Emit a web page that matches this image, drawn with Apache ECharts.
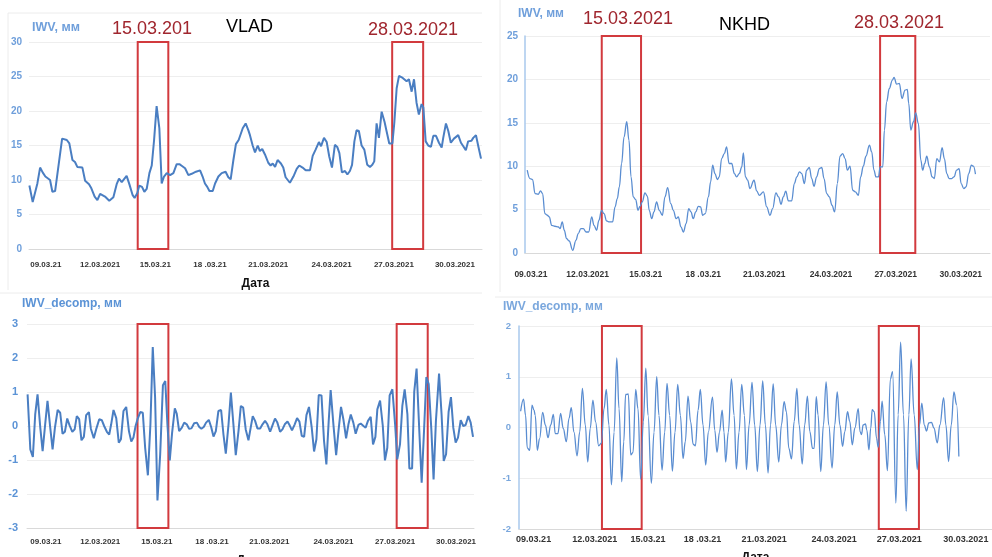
<!DOCTYPE html>
<html>
<head>
<meta charset="utf-8">
<script src="https://cdn.jsdelivr.net/npm/echarts@6/dist/echarts.min.js"></script>
<style>
  html, body { margin: 0; padding: 0; background: #fff; }
  #main { width: 992px; height: 557px; }
</style>
</head>
<body>
<div id="main"></div>
<script>
// x values are days of March 2021
var dateLabels = ['09.03.21', '12.03.2021', '15.03.21', '18 .03.21', '21.03.2021', '24.03.2021', '27.03.2021', '30.03.2021'];
var vladTopTicks = [9, 11.79, 14.62, 17.43, 20.42, 23.67, 26.87, 30];
var nkhdTopTicks = [9, 11.77, 14.61, 17.42, 20.40, 23.66, 26.82, 30];
var vladBotTicks = [9, 11.78, 14.68, 17.50, 20.44, 23.72, 26.88, 30];
var nkhdBotTicks = [9, 11.97, 14.56, 17.20, 20.20, 23.60, 26.76, 30];

// IWV, mm - VLAD
var vladIwv = [
  [8.16,9.2],[8.33,6.8],[8.57,9.5],[8.71,11.8],[8.84,11.1],[8.98,10.5],[9.08,10.7],[9.22,10.0],[9.34,8.3],[9.48,8.4],
  [9.84,16.0],[10.08,15.8],[10.21,15.3],[10.37,12.9],[10.50,12.6],[10.62,11.9],[10.88,11.8],[11.02,9.9],[11.22,9.4],[11.34,8.8],
  [11.51,7.6],[11.65,7.1],[11.79,8.0],[12.04,7.6],[12.26,7.0],[12.47,7.5],[12.64,9.4],[12.76,10.2],[12.90,9.7],[13.15,10.6],
  [13.29,9.4],[13.46,7.8],[13.56,7.4],[13.70,8.1],[13.80,9.2],[13.94,9.0],[14.06,8.3],[14.18,8.7],[14.32,11.0],[14.44,12.1],
  [14.56,15.8],[14.69,20.7],[14.83,17.5],[14.95,9.5],[15.07,10.5],[15.21,11.0],[15.38,10.7],[15.55,11.0],[15.72,12.3],[15.86,12.3],
  [16.01,12.0],[16.15,11.7],[16.23,11.8],[16.32,10.7],[16.49,10.9],[16.71,11.2],[16.92,11.4],[17.05,10.5],[17.17,9.5],[17.29,9.0],
  [17.40,8.4],[17.57,8.4],[17.69,9.5],[17.86,10.5],[18.03,11.0],[18.23,11.2],[18.37,10.4],[18.49,10.1],[18.63,12.9],[18.76,15.2],
  [18.90,15.8],[19.00,15.9],[19.11,17.5],[19.26,18.2],[19.40,17.2],
  [19.48,16.5],[19.62,15.0],[19.74,14.0],[19.88,15.0],[19.99,14.2],[20.11,14.5],[20.25,13.7],[20.42,12.5],[20.54,12.1],[20.65,12.4],
  [20.77,11.9],[20.90,12.9],[21.07,12.4],[21.19,11.8],[21.31,10.4],[21.53,9.6],[21.71,10.5],[21.88,11.6],[22.01,12.1],[22.18,11.8],
  [22.34,11.4],[22.56,11.4],[22.70,13.5],[22.85,14.4],[23.02,15.5],[23.13,14.9],[23.28,16.1],[23.42,15.5],[23.55,13.4],[23.69,11.8],
  [23.84,15.1],[23.96,14.8],[24.07,13.9],[24.20,11.1],[24.27,10.9],[24.36,11.3],[24.48,10.8],[24.61,11.3],[24.72,12.2],[24.84,15.6],
  [24.95,17.2],[25.07,17.1],[25.21,15.0],[25.35,14.4],[25.50,12.2],[25.64,11.9],[25.76,12.2],[25.86,12.7],[25.98,18.2],[26.10,16.1],
  [26.24,19.9],[26.39,18.4],[26.49,17.1],[26.63,15.3],[26.79,15.3],[26.89,18.3],[27.01,23.3],[27.13,25.1],[27.32,24.8],[27.52,24.3],
  [27.64,24.6],[27.78,22.8],[27.90,24.6],[28.03,21.2],[28.15,19.5],[28.29,21.0],[28.38,20.5],[28.50,15.6],[28.63,15.0],[28.77,14.8],
  [28.89,16.4],[29.03,16.4],[29.18,15.4],[29.32,14.7],[29.40,16.1],[29.54,18.2],[29.66,17.1],[29.79,15.4],[29.95,16.0],[30.17,16.5],
  [30.31,15.4],[30.43,14.9],[30.56,14.3],[30.68,15.6],[30.85,15.7],[30.94,16.1],[31.08,16.5],[31.20,14.9],[31.34,13.1]
];

// IWV, mm - NKHD
var nkhdIwv = [
  [8.82,9.54],[8.95,8.58],[9.08,8.46],[9.20,6.85],[9.36,6.77],[9.47,7.15],[9.57,6.85],[9.68,4.54],[9.80,4.35],[9.90,4.15],
  [10.01,3.19],[10.17,3.08],[10.34,3.0],[10.42,2.81],[10.53,3.58],[10.63,2.62],[10.74,1.65],[10.87,1.38],[11.04,0.31],[11.20,1.46],
  [11.31,2.23],[11.44,2.81],[11.56,2.81],[11.69,2.42],[11.82,2.42],[11.97,4.15],[12.08,3.19],[12.21,2.62],[12.32,3.77],[12.45,4.92],
  [12.57,4.54],[12.70,3.69],[12.83,3.58],[12.99,3.58],[13.11,5.31],[13.22,6.27],[13.32,7.62],[13.43,10.31],[13.55,13.38],[13.68,15.12],
  [13.79,13.0],[13.89,8.77],[14.00,6.46],[14.12,6.15],[14.23,4.92],[14.33,5.38],[14.44,5.88],[14.57,6.92],[14.69,6.54],[14.78,4.92],
  [14.90,3.96],[15.01,4.73],[15.14,5.88],[15.27,4.92],[15.42,4.35],[15.55,6.46],[15.68,7.54],[15.83,5.69],[15.96,4.92],[16.09,3.96],
  [16.20,4.15],[16.33,3.0],[16.45,2.42],[16.58,3.38],[16.71,5.12],[16.82,4.73],[16.93,3.96],[17.05,4.73],[17.18,5.38],[17.29,5.31],
  [17.39,4.35],[17.52,4.54],[17.67,6.46],[17.78,8.19],[17.88,10.12],[17.99,9.15],[18.11,8.46],[18.20,8.77],[18.32,10.88],[18.45,11.46],
  [18.56,12.23],[18.68,10.31],[18.81,10.31],[18.94,9.15],[19.05,8.77],[19.18,9.15],[19.30,9.92],[19.38,11.54],[19.48,8.77],[19.59,8.38],
  [19.70,7.42],
  [19.90,8.38],[20.03,7.15],[20.16,6.65],[20.36,7.04],[20.52,5.31],[20.68,4.35],[20.81,5.12],[20.97,6.92],[21.10,6.46],[21.22,5.62],
  [21.33,6.46],[21.45,7.12],[21.58,6.0],[21.74,6.0],[21.87,8.0],[21.99,8.77],[22.12,9.35],[22.23,9.15],[22.36,8.0],[22.47,9.54],
  [22.60,9.85],[22.72,8.58],[22.83,7.69],[22.96,8.77],[23.09,9.73],[23.21,9.85],[23.32,8.58],[23.45,6.85],[23.58,6.46],[23.71,5.5],
  [23.84,4.73],[23.97,8.0],[24.10,11.15],[24.23,11.46],[24.35,10.88],[24.46,9.54],[24.59,10.0],[24.72,7.23],[24.85,7.04],[25.00,6.65],
  [25.11,8.77],[25.24,10.0],[25.37,11.15],[25.54,12.42],[25.65,11.65],[25.76,9.54],[25.86,8.77],[25.98,8.77],[26.06,9.92],[26.19,9.92],
  [26.27,14.15],[26.38,17.42],[26.51,18.96],[26.66,19.92],[26.74,20.23],[26.87,19.46],[27.00,19.54],[27.13,17.81],[27.28,18.77],[27.39,18.85],
  [27.46,17.23],[27.56,14.15],[27.69,15.12],[27.80,16.15],[27.93,14.92],[28.05,10.69],[28.14,9.54],[28.24,10.31],[28.34,11.15],[28.47,9.92],
  [28.60,8.77],[28.71,8.58],[28.83,10.88],[28.96,10.5],[29.09,12.15],[29.20,10.88],[29.32,9.15],[29.43,8.58],[29.56,8.58],[29.67,8.77],
  [29.80,9.54],[29.92,9.73],[30.02,8.0],[30.15,7.42],[30.26,7.62],[30.39,9.15],[30.52,10.12],[30.62,10.0],[30.72,9.08]
];

// IWV_decomp, mm - VLAD
var vladDecomp = [
  [8.06,0.93],[8.20,-0.69],[8.33,-0.91],[8.45,0.34],[8.57,0.93],[8.71,-0.05],[8.83,-0.74],[8.96,0.05],[9.08,0.74],[9.22,-0.05],
  [9.34,-0.69],[9.46,-0.05],[9.60,0.47],[9.73,0.39],[9.85,-0.23],[9.97,-0.17],[10.09,0.22],[10.21,0.02],[10.35,-0.17],[10.47,-0.10],
  [10.58,0.29],[10.70,0.20],[10.82,-0.42],[10.94,-0.32],[11.06,0.32],[11.20,0.41],[11.30,-0.08],[11.45,-0.36],[11.57,-0.10],[11.73,0.20],
  [11.86,0.17],[11.98,0.0],[12.12,-0.17],[12.24,-0.25],[12.34,0.05],[12.46,0.47],[12.60,0.23],[12.73,-0.49],[12.84,-0.39],[12.97,0.44],
  [13.11,0.56],[13.25,-0.15],[13.37,-0.46],[13.48,-0.34],[13.59,0.0],[13.69,0.2],[13.83,0.41],[13.96,0.39],[14.08,-0.64],[14.22,-1.45],
  [14.35,0.05],[14.47,2.32],[14.59,0.83],[14.71,-2.19],[14.85,-0.83],[14.99,1.2],[15.11,1.32],[15.22,0.05],[15.34,-1.01],[15.46,-0.2],
  [15.60,0.52],[15.70,0.36],[15.82,-0.15],[15.96,-0.05],[16.08,0.1],[16.21,0.05],[16.33,-0.08],[16.45,-0.07],[16.59,0.08],[16.73,0.1],
  [16.85,-0.03],[16.96,-0.08],[17.08,-0.03],[17.20,0.1],[17.34,0.18],[17.46,-0.03],[17.58,-0.31],[17.70,-0.15],[17.83,0.44],[17.97,0.47],
  [18.09,-0.25],[18.21,-0.81],[18.35,0.05],[18.47,0.98],[18.60,0.05],[18.72,-0.86],[18.86,-0.15],[18.98,0.59],[19.10,0.54],[19.23,-0.1],
  [19.37,-0.42],
  [19.59,0.29],[19.71,0.15],[19.83,-0.07],[19.97,-0.07],[20.09,0.05],[20.22,0.15],[20.34,0.05],[20.48,-0.17],[20.60,0.02],[20.73,0.22],
  [20.85,0.1],[20.99,-0.17],[21.11,-0.1],[21.23,0.05],[21.37,0.13],[21.48,0.02],[21.60,-0.13],[21.74,0.05],[21.86,0.23],[21.98,0.13],
  [22.10,-0.29],[22.22,-0.32],[22.34,0.32],[22.47,0.56],[22.61,-0.05],[22.73,-0.75],[22.85,-0.39],[22.97,0.91],[23.11,0.9],[23.24,-0.44],
  [23.36,-1.13],[23.48,0.15],[23.58,1.06],[23.72,0.05],[23.86,-0.86],[23.98,-0.15],[24.11,0.56],[24.23,0.2],[24.37,-0.36],[24.49,0.05],
  [24.61,0.34],[24.74,0.1],[24.86,-0.23],[25.00,0.03],[25.12,0.07],[25.26,0.0],[25.37,-0.05],[25.49,0.15],[25.63,0.27],[25.75,-0.54],
  [25.87,-0.32],[25.97,0.49],[26.11,0.75],[26.25,0.0],[26.36,-1.01],[26.48,-0.64],[26.60,0.9],[26.74,1.08],[26.88,0.05],[26.99,-0.98],
  [27.13,-0.54],[27.25,0.59],[27.37,1.08],[27.51,0.34],[27.61,-1.25],[27.75,-1.25],[27.86,1.01],[27.98,1.69],[28.12,-0.15],[28.24,-1.67],
  [28.36,-0.15],[28.48,1.44],[28.60,1.23],[28.74,-0.15],[28.85,-1.57],[28.97,0.15],[29.13,1.54],[29.26,0.34],[29.37,-1.03],[29.49,-0.83],
  [29.62,0.42],[29.74,0.85],[29.86,-0.05],[29.98,-0.49],[30.10,-0.34],[30.24,0.17],[30.37,0.0],[30.49,0.03],[30.63,0.29],[30.75,0.1],
  [30.87,-0.32]
];

// IWV_decomp, mm - NKHD
var nkhdDecomp = [
  [8.37,0.32],[8.51,0.56],[8.61,0.24],[8.69,-0.4],[8.81,-0.45],[8.92,0.44],[9.02,0.34],[9.08,0.24],[9.18,-0.45],[9.29,-0.22],
  [9.44,0.30],[9.57,0.05],[9.70,-0.2],[9.83,0.05],[9.96,0.26],[10.05,-0.12],[10.18,-0.12],[10.31,0.28],[10.44,-0.02],[10.59,-0.28],
  [10.72,0.18],[10.83,0.39],[10.96,-0.09],[11.11,-0.56],[11.24,-0.09],[11.37,0.77],[11.51,0.05],[11.63,-0.68],[11.75,-0.02],[11.88,0.54],
  [12.01,0.11],[12.16,-0.36],[12.29,-0.31],[12.42,0.37],[12.53,0.75],[12.66,0.05],[12.78,-1.13],[12.91,-0.09],[13.04,1.37],[13.15,0.37],
  [13.28,-1.07],[13.38,-0.28],[13.47,0.65],[13.60,0.66],[13.72,-0.54],[13.83,-0.49],[13.96,0.75],[14.07,0.37],[14.20,-1.02],[14.33,0.11],
  [14.45,1.17],[14.56,0.24],[14.72,-1.10],[14.85,-0.09],[14.98,1.0],[15.09,0.24],[15.24,-0.84],[15.37,-0.09],[15.48,0.87],[15.61,0.24],
  [15.74,-0.86],[15.87,-0.09],[16.00,0.85],[16.13,0.24],[16.26,-0.61],[16.37,-0.28],[16.50,0.62],[16.63,0.11],[16.75,-0.33],[16.86,-0.36],
  [16.99,0.34],[17.10,0.75],[17.23,0.05],[17.36,-0.74],[17.49,-0.09],[17.69,0.60],[17.80,-0.05],[17.91,-0.49],[18.03,-0.09],[18.16,0.34],
  [18.25,-0.09],[18.33,-0.68],[18.46,-0.09],[18.61,0.96],[18.74,0.24],[18.85,-0.82],[18.98,-0.09],[19.11,0.85],[19.24,0.24],
  [19.34,-0.83],[19.47,0.05],[19.61,0.89],[19.74,0.05],[19.87,-0.87],[20.00,0.05],[20.13,0.92],[20.26,0.05],[20.39,-0.90],[20.51,0.05],
  [20.64,0.86],[20.76,0.05],[20.91,-0.68],[21.04,0.05],[21.17,0.51],[21.28,0.31],[21.40,-0.41],[21.53,-0.62],[21.66,0.12],[21.79,0.77],
  [21.90,0.05],[22.05,-0.72],[22.17,0.05],[22.30,0.62],[22.42,-0.08],[22.55,-0.41],[22.63,-0.41],[22.73,0.61],[22.82,0.25],[22.95,-0.87],
  [23.08,0.05],[23.21,0.90],[23.34,0.05],[23.50,-0.80],[23.63,0.05],[23.75,0.70],[23.88,0.05],[24.01,-0.37],[24.12,-0.08],[24.25,0.31],
  [24.36,0.12],[24.48,-0.34],[24.61,-0.01],[24.77,0.37],[24.86,-0.08],[24.93,-0.14],[25.01,0.05],[25.12,0.07],[25.19,-0.05],[25.29,-0.44],
  [25.38,-0.01],[25.45,0.35],[25.55,0.31],[25.66,-0.21],[25.74,-0.39],[25.85,0.12],[25.93,0.52],[26.06,-0.14],[26.19,-0.85],[26.33,0.95],
  [26.44,1.10],[26.60,-1.49],[26.71,0.25],[26.83,1.68],[26.97,0.25],[27.10,-1.65],[27.23,0.25],[27.34,1.35],[27.49,0.25],[27.64,-0.83],
  [27.75,0.05],[27.86,0.48],[27.98,0.05],[28.09,-0.07],[28.20,0.09],[28.33,0.10],[28.45,-0.01],[28.61,-0.30],[28.74,0.05],[28.92,0.59],
  [29.03,0.05],[29.16,-0.67],[29.29,0.05],[29.42,0.70],[29.55,0.45],[29.66,-0.57]
];

// highlighted periods (days) for each panel
var vladTopBoxes = [[13.72, 15.29], [26.78, 28.37]];
var nkhdTopBoxes = [[12.46, 14.38], [26.06, 27.78]];
var vladBotBoxes = [[13.69, 15.27], [26.96, 28.55]];
var nkhdBotBoxes = [[12.32, 14.25], [25.77, 27.72]];

var redBox = '#d23a3e';
var redText = '#a0262e';
var gridColor = '#eeeeee';

var myChart = echarts.init(document.getElementById('main'));

function boxes(list, yMin, yMax) {
    return {
        silent: true,
        itemStyle: { color: 'rgba(0,0,0,0)', borderColor: redBox, borderWidth: 2 },
        data: list.map(function(b) {
            return [{ xAxis: b[0], yAxis: yMin }, { xAxis: b[1], yAxis: yMax }];
        })
    };
}

function makeX(gridIndex, min, max, ticks, margin, fontSize, showName, nameGap) {
    return {
        type: 'value',
        gridIndex: gridIndex,
        min: min,
        max: max,
        name: showName ? 'Дата' : '',
        nameLocation: 'middle',
        nameGap: nameGap,
        nameTextStyle: { fontFamily: 'Liberation Sans', fontWeight: 'bold', fontSize: 12, color: '#111' },
        axisLine: { show: true, onZero: false, lineStyle: { color: '#d9d9d9', width: 1 } },
        axisTick: { show: false, customValues: ticks },
        splitLine: { show: false },
        axisLabel: {
            customValues: ticks,
            margin: margin,
            fontFamily: 'Liberation Sans',
            fontWeight: 'bold',
            fontSize: fontSize,
            color: '#333',
            formatter: function(v) {
                var i = ticks.indexOf(v);
                return i >= 0 ? dateLabels[i] : '';
            }
        }
    };
}

function makeY(gridIndex, min, max, showLine, fontSize, margin, color) {
    return {
        type: 'value',
        gridIndex: gridIndex,
        min: min,
        max: max,
        interval: min < 0 ? 1 : 5,
        axisLine: { show: showLine, lineStyle: { color: '#a9c8ec', width: 1.5 } },
        axisTick: { show: false },
        splitLine: { show: true, lineStyle: { color: gridColor, width: 1 } },
        axisLabel: {
            margin: margin,
            fontFamily: 'Liberation Sans',
            fontWeight: 'bold',
            fontSize: fontSize,
            color: color
        }
    };
}

function label(text, x, y, size, color, bold) {
    return {
        type: 'text', x: x, y: y, silent: true,
        style: {
            text: text,
            fill: color,
            font: (bold ? 'bold ' : '') + size + 'px "Liberation Sans"',
            align: 'left',
            verticalAlign: 'middle'
        }
    };
}

function frame(x1, y1, x2, y2) {
    return {
        type: 'line', silent: true,
        shape: { x1: x1, y1: y1, x2: x2, y2: y2 },
        style: { stroke: '#ececec', lineWidth: 1 }
    };
}

option = {
    backgroundColor: '#fff',
    animation: false,
    grid: [
        { left: 29, top: 42, width: 453, height: 207, outerBoundsMode: 'none' },
        { left: 525, top: 36, width: 465, height: 217, outerBoundsMode: 'none' },
        { left: 27, top: 324, width: 447, height: 204, outerBoundsMode: 'none' },
        { left: 519, top: 326, width: 473, height: 203, outerBoundsMode: 'none' }
    ],
    xAxis: [
        makeX(0, 8.14, 31.39, vladTopTicks, 12, 8, true, 29),
        makeX(1, 8.71, 31.43, nkhdTopTicks, 17, 8.5, false, 0),
        makeX(2, 8.03, 30.92, vladBotTicks, 10, 8, true, 27),
        makeX(3, 8.29, 31.27, nkhdBotTicks, 6, 9, true, 23)
    ],
    yAxis: [
        makeY(0, 0, 30, false, 10, 7, '#6f9fdb'),
        makeY(1, 0, 25, true, 10, 7, '#6f9fdb'),
        makeY(2, -3, 3, false, 11, 9, '#5b93d6'),
        makeY(3, -2, 2, true, 9.5, 8, '#7aa7dd')
    ],
    graphic: [
        frame(8, 13, 482, 13),
        frame(8, 13, 8, 290),
        frame(0, 293, 482, 293),
        frame(500, 0, 500, 292),
        frame(495, 297, 992, 297),
        label('IWV, мм', 32, 28, 12.5, '#6f9fdb', true),
        label('15.03.201', 112, 29, 18, redText, false),
        label('VLAD', 226, 27, 18, '#000', false),
        label('28.03.2021', 368, 30, 18, redText, false),
        label('IWV, мм', 518, 14, 12, '#6f9fdb', true),
        label('15.03.2021', 583, 19, 18, redText, false),
        label('NKHD', 719, 25, 18, '#000', false),
        label('28.03.2021', 854, 23, 18, redText, false),
        label('IWV_decomp, мм', 22, 304, 12, '#5b93d6', true),
        label('IWV_decomp, мм', 503, 307, 12, '#7aa7dd', true)
    ],
    series: [
        {
            type: 'line', xAxisIndex: 0, yAxisIndex: 0, data: vladIwv,
            showSymbol: false, lineStyle: { color: '#4a7ec2', width: 2 },
            markArea: boxes(vladTopBoxes, 0, 30)
        },
        {
            type: 'line', xAxisIndex: 1, yAxisIndex: 1, data: nkhdIwv,
            showSymbol: false, smooth: 0.4, smoothMonotone: 'x',
            lineStyle: { color: '#5a8dd1', width: 1.3 },
            markArea: boxes(nkhdTopBoxes, 0, 25)
        },
        {
            type: 'line', xAxisIndex: 2, yAxisIndex: 2, data: vladDecomp,
            showSymbol: false, lineStyle: { color: '#4a7ec2', width: 2 },
            markArea: boxes(vladBotBoxes, -3, 3)
        },
        {
            type: 'line', xAxisIndex: 3, yAxisIndex: 3, data: nkhdDecomp,
            showSymbol: false, smooth: 0.4, smoothMonotone: 'x',
            lineStyle: { color: '#5a8dd1', width: 1.3 },
            markArea: boxes(nkhdBotBoxes, -2, 2)
        }
    ]
};

myChart.setOption(option);
</script>
</body>
</html>
